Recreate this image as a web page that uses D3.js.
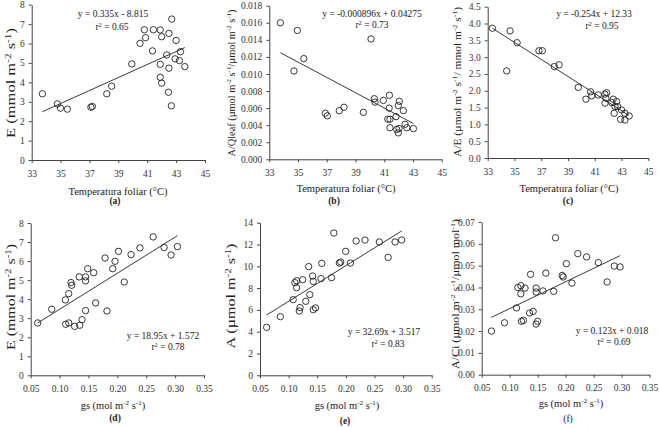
<!DOCTYPE html>
<html>
<head>
<meta charset="utf-8">
<script src="https://cdn.jsdelivr.net/npm/d3@7"></script>
<style>
  body { margin: 0; background: #fff; }
  svg { display: block; font-family: "Liberation Serif", "Times New Roman", serif; }
</style>
</head>
<body>
<svg id="chart" width="659" height="428"></svg>
<script>
// (a) temperatura foliar x E
const tempA = [33.74, 34.78, 34.99, 35.47, 37.1, 37.2, 38.2, 38.54, 39.93, 40.5, 40.8, 40.88, 41.36, 41.43, 41.9,
  42.0, 41.9, 41.9, 42.0, 42.35, 42.47, 42.5, 42.5, 42.67, 42.7, 43.0, 42.93, 43.3, 43.23, 43.6];
const eA = [3.41, 2.89, 2.67, 2.62, 2.72, 2.76, 3.41, 3.80, 4.95, 6.01, 6.71, 6.30, 5.62, 6.71, 6.70,
  6.35, 4.93, 4.26, 3.96, 5.41, 3.49, 6.52, 4.73, 2.79, 7.26, 6.16, 5.21, 5.58, 5.12, 4.81];

// (b) temperatura foliar x A/Qleaf
const tempB = [33.77, 34.72, 34.95, 35.4, 36.9, 37.04, 37.87, 38.2, 39.55, 40.08, 40.31, 40.36, 40.94, 41.36,
  42.05, 41.98, 41.34, 42.33, 41.25, 41.4, 41.82, 41.4, 41.87, 41.98, 42.03, 42.45, 42.57, 43.03];
const aqB = [0.0160, 0.01035, 0.0151, 0.0118, 0.0054, 0.0051, 0.0057, 0.0061, 0.0055, 0.0141, 0.0071, 0.0067, 0.0069, 0.0075,
  0.0068, 0.0063, 0.0060, 0.0057, 0.0047, 0.0047, 0.0050, 0.0037, 0.0035, 0.0031, 0.0036, 0.0041, 0.0037, 0.0036];

// (c) temperatura foliar x A/E
const tempC = [33.35, 34.42, 34.67, 35.2, 36.83, 37.08, 37.98, 38.33, 39.77, 40.69, 40.77, 40.34, 41.26, 41.76,
  41.89, 41.83, 41.76, 42.26, 42.38, 42.63, 42.51, 42.71, 43.0, 42.45, 43.25, 43.57, 42.93, 43.25];
const aeC = [3.86, 2.59, 3.78, 3.43, 3.19, 3.19, 2.72, 2.77, 2.10, 1.97, 1.85, 1.75, 1.875, 1.90,
  1.94, 1.78, 1.63, 1.65, 1.75, 1.68, 1.53, 1.53, 1.43, 1.33, 1.33, 1.25, 1.15, 1.13];

// (d) gs x E
const gsD = [0.0621, 0.0864, 0.110, 0.1106, 0.116, 0.1158, 0.1198, 0.121, 0.126, 0.135, 0.1389, 0.134, 0.145, 0.145, 0.145,
  0.1487, 0.159, 0.1625, 0.1787, 0.182, 0.192, 0.196, 0.202, 0.212, 0.2237, 0.239, 0.262, 0.281, 0.293, 0.304];
const eD = [2.75, 3.47, 3.96, 2.68, 2.75, 4.29, 4.87, 4.73, 2.57, 2.63, 2.92, 5.17, 5.17, 4.96, 3.40,
  5.60, 5.39, 3.80, 6.16, 3.38, 5.60, 5.99, 6.51, 4.90, 6.34, 6.69, 7.27, 6.71, 6.32, 6.76];

// (e) gs x A
const gsE = [0.0616, 0.0855, 0.108, 0.111, 0.114, 0.114, 0.1187, 0.120, 0.1245, 0.130, 0.135, 0.137, 0.142, 0.143, 0.143,
  0.147, 0.158, 0.1566, 0.175, 0.179, 0.1886, 0.191, 0.1997, 0.208, 0.218, 0.2335, 0.2585, 0.274, 0.286, 0.2975];
const aE = [4.40, 5.38, 6.94, 8.50, 8.68, 8.04, 5.90, 6.21, 8.77, 6.79, 9.97, 7.40, 9.11, 8.62, 6.02,
  6.18, 10.27, 8.87, 8.96, 13.05, 10.30, 10.39, 11.37, 10.30, 12.32, 12.41, 12.23, 10.82, 12.23, 12.41];

// (f) gs x A/Ci
const gsF = [0.0675, 0.0908, 0.1123, 0.1146, 0.120, 0.120, 0.1275, 0.121, 0.1245, 0.1356, 0.1374, 0.142, 0.1473, 0.1473, 0.1473,
  0.150, 0.1595, 0.1647, 0.1787, 0.182, 0.1939, 0.1956, 0.2014, 0.2113, 0.2218, 0.2375, 0.2585, 0.2742, 0.287, 0.2975];
const aciF = [0.0200, 0.0238, 0.0306, 0.0400, 0.0408, 0.0371, 0.0397, 0.0245, 0.0249, 0.0283, 0.0460, 0.0290, 0.0397, 0.0379, 0.0232,
  0.0245, 0.0384, 0.0466, 0.0382, 0.0628, 0.0455, 0.0448, 0.0509, 0.0420, 0.0555, 0.0540, 0.0514, 0.0425, 0.0498, 0.0494];

// regressões (a..f)
const slopes = [0.335, -0.000896, -0.254, 18.95, 32.69, 0.123];
const intercepts = [-8.815, 0.04275, 12.33, 1.572, 3.517, 0.018];
const equations = ["y = 0.335x - 8.815", "y = -0.000896x + 0.04275", "y = -0.254x + 12.33",
  "y = 18.95x + 1.572", "y = 32.69x + 3.517", "y = 0.123x + 0.018"];
const r2Values = ["0.65", "0.73", "0.95", "0.78", "0.83", "0.69"];
const panelLetters = ["(a)", "(b)", "(c)", "(d)", "(e)", "(f)"];

// ticks
const tempTicks = [33, 35, 37, 39, 41, 43, 45];
const gsTicks = [0.05, 0.10, 0.15, 0.20, 0.25, 0.30, 0.35];
const eTicks = [0, 1, 2, 3, 4, 5, 6, 7, 8];
const aqTicks = [0, 0.002, 0.004, 0.006, 0.008, 0.010, 0.012, 0.014, 0.016, 0.018];
const aeTicks = [0, 0.5, 1, 1.5, 2, 2.5, 3, 3.5, 4, 4.5];
const aTicks = [0, 2, 4, 6, 8, 10, 12, 14];
const aciTicks = [0, 0.01, 0.02, 0.03, 0.04, 0.05, 0.06, 0.07];

// rótulos com sobrescritos: [texto, sobrescrito?]
const tempTitle = [["Temperatura foliar (°C)"]];
const gsTitle = [["gs (mol m"], ["-2", 1], [" s"], ["-1", 1], [")"]];
const yLabels = [
  [["E (mmol m"], ["-2", 1], [" s"], ["-1", 1], [")"]],
  [["A/Qleaf (µmol m"], ["-2", 1], [" s"], ["-1", 1], ["/µmol m"], ["-2", 1], [" s"], ["-1", 1], [")"]],
  [["A/E (µmol m"], ["-2", 1], [" s"], ["-1", 1], ["/ mmol m"], ["-2", 1], [" s"], ["-1", 1], [")"]],
  [["E (mmol m"], ["-2", 1], [" s"], ["-1", 1], [")"]],
  [["A (µmol m"], ["-2", 1], [" s"], ["-1", 1], [")"]],
  [["A/Ci (µmol m"], ["-2", 1], [" s"], ["-1", 1], ["/µmol mol"], ["-1", 1], [")"]]
];

const svg = d3.select("#chart");
svg.append("rect").attr("width", 659).attr("height", 428).attr("fill", "#fff");

function richText(t, parts, size) {
  parts.forEach(([s, sup]) => {
    const ts = t.append("tspan").text(s);
    if (sup) ts.attr("baseline-shift", "super").attr("font-size", size * 0.68);
  });
  return t;
}

// layout de cada painel
const panels = [
  { xs: tempA, ys: eA, xDom: [33, 45], yDom: [0, 8], xTicks: tempTicks, yTicks: eTicks, xFmt: d3.format("d"), yFmt: d3.format("d"),
    left: 31.7, right: 205, bottom: 160, top: 4.7, eq: [113, 17], r2: [112, 30], xTitle: tempTitle, xt: [118, 195], letter: [115, 204],
    yl: [15, 83], ylLen: 110, ylSize: 11.5, bold: true },
  { xs: tempB, ys: aqB, xDom: [33, 45], yDom: [0, 0.018], xTicks: tempTicks, yTicks: aqTicks, xFmt: d3.format("d"), yFmt: d3.format(".3f"),
    left: 269.3, right: 441.7, bottom: 159.3, top: 5.7, eq: [372, 17], r2: [372, 28], xTitle: tempTitle, xt: [346, 192], letter: [334, 204],
    yl: [235, 83], ylLen: 147, ylSize: 10.5, bold: true },
  { xs: tempC, ys: aeC, xDom: [33, 45], yDom: [0, 4.5], xTicks: tempTicks, yTicks: aeTicks, xFmt: d3.format("d"), yFmt: d3.format(".1f"),
    left: 487.7, right: 648.3, bottom: 158, top: 6.7, eq: [594, 17], r2: [602, 29], xTitle: tempTitle, xt: [569, 192], letter: [568, 204],
    yl: [461, 82], ylLen: 150, ylSize: 10.5, bold: true },
  { xs: gsD, ys: eD, xDom: [0.05, 0.35], yDom: [0, 8], xTicks: gsTicks, yTicks: eTicks, xFmt: d3.format(".2f"), yFmt: d3.format("d"),
    left: 30.7, right: 204, bottom: 375.3, top: 223, eq: [163, 339], r2: [168, 350], xTitle: gsTitle, xt: [113, 409], letter: [115, 421],
    yl: [15, 297], ylLen: 106, ylSize: 11.5, bold: true },
  { xs: gsE, ys: aE, xDom: [0.05, 0.35], yDom: [0, 14], xTicks: gsTicks, yTicks: aTicks, xFmt: d3.format(".2f"), yFmt: d3.format("d"),
    left: 260, right: 431.7, bottom: 375.3, top: 222.7, eq: [384, 335], r2: [388, 347], xTitle: gsTitle, xt: [347, 409], letter: [345, 424],
    yl: [235, 296], ylLen: 105, ylSize: 11.5, bold: true },
  { xs: gsF, ys: aciF, xDom: [0.05, 0.35], yDom: [0, 0.07], xTicks: gsTicks, yTicks: aciTicks, xFmt: d3.format(".2f"), yFmt: d3.format(".2f"),
    left: 481.7, right: 649.5, bottom: 374.7, top: 222, eq: [612, 334], r2: [614, 345], xTitle: gsTitle, xt: [571, 407], letter: [568, 422],
    yl: [459, 294], ylLen: 150, ylSize: 10.5, bold: false }
];

panels.forEach((p, i) => {
  const x = d3.scaleLinear().domain(p.xDom).range([p.left, p.right]);
  const y = d3.scaleLinear().domain(p.yDom).range([p.bottom, p.top]);
  const g = svg.append("g");

  const xAxis = g.append("g").attr("transform", `translate(0,${p.bottom})`)
    .call(d3.axisBottom(x).tickValues(p.xTicks).tickFormat(p.xFmt).tickSize(3).tickSizeOuter(0).tickPadding(7));
  const yAxis = g.append("g").attr("transform", `translate(${p.left},0)`)
    .call(d3.axisLeft(y).tickValues(p.yTicks).tickFormat(p.yFmt).tickSize(3).tickSizeOuter(0).tickPadding(4));
  [xAxis, yAxis].forEach(a => {
    a.select(".domain").attr("stroke", "#444");
    a.selectAll(".tick line").attr("stroke", "#444");
    a.selectAll(".tick text").attr("font-family", "Liberation Serif").attr("font-size", 9.5).attr("fill", "#333");
  });

  // pontos
  g.selectAll("circle").data(d3.zip(p.xs, p.ys)).join("circle")
    .attr("cx", d => x(d[0])).attr("cy", d => y(d[1])).attr("r", 3.2)
    .attr("fill", "none").attr("stroke", "#222").attr("stroke-width", 0.9);

  // reta de regressão
  const [x0, x1] = d3.extent(p.xs);
  g.append("line")
    .attr("x1", x(x0)).attr("y1", y(slopes[i] * x0 + intercepts[i]))
    .attr("x2", x(x1)).attr("y2", y(slopes[i] * x1 + intercepts[i]))
    .attr("stroke", "#222").attr("stroke-width", 0.9);

  // equação e r²
  g.append("text").attr("x", p.eq[0]).attr("y", p.eq[1]).attr("text-anchor", "middle")
    .attr("font-size", 9.5).attr("fill", "#222").text(equations[i]);
  richText(g.append("text").attr("x", p.r2[0]).attr("y", p.r2[1]).attr("text-anchor", "middle")
    .attr("font-size", 9.5).attr("fill", "#222"), [["r"], ["2", 1], [" = " + r2Values[i]]], 9.5);

  // títulos dos eixos
  richText(g.append("text").attr("x", p.xt[0]).attr("y", p.xt[1]).attr("text-anchor", "middle")
    .attr("font-size", 10.5).attr("fill", "#222"), p.xTitle, 10.5);
  g.append("text").attr("x", p.letter[0]).attr("y", p.letter[1]).attr("text-anchor", "middle")
    .attr("font-size", 9.5).attr("font-weight", p.bold ? "bold" : "normal").attr("fill", "#222").text(panelLetters[i]);

  richText(g.append("text").attr("transform", `translate(${p.yl[0]},${p.yl[1]}) rotate(-90)`)
    .attr("text-anchor", "middle").attr("font-size", p.ylSize).attr("fill", "#222")
    .attr("textLength", p.ylLen).attr("lengthAdjust", "spacingAndGlyphs"), yLabels[i], p.ylSize);
});
</script>
</body>
</html>
